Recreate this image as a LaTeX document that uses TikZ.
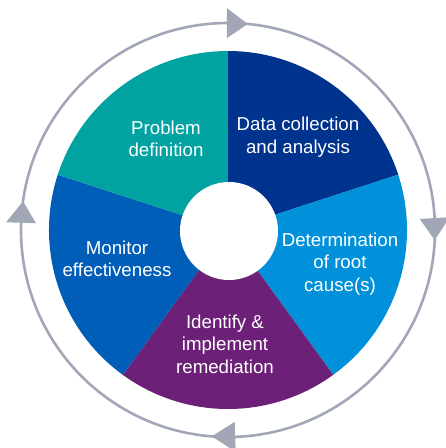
\documentclass[tikz,border=0pt]{standalone}
\usepackage{fontspec}
\setmainfont{Liberation Sans}
\definecolor{kTeal}{HTML}{00A3A1}
\definecolor{kNavy}{HTML}{00338D}
\definecolor{kSky}{HTML}{0091DA}
\definecolor{kPurple}{HTML}{6D2077}
\definecolor{kBlue}{HTML}{005EB8}
\definecolor{ringgray}{HTML}{A2A7B8}
\begin{document}
\begin{tikzpicture}[x=1pt,y=1pt,
  label/.style={text=white, align=center, inner sep=0pt,
    font=\fontsize{18.7}{22.5}\selectfont},
  ring/.style={draw=ringgray, line width=2.6pt}]
\useasboundingbox (-228,-218) rectangle (218,230);
% pie segments, clockwise from the top
\foreach \a/\b/\c in {18/90/kNavy, -54/18/kSky, -126/-54/kPurple,
                      162/234/kBlue, 90/162/kTeal}
  \fill[\c] (0,0) -- (\a:179) arc[start angle=\a, end angle=\b, radius=179] -- cycle;
% hub
\fill[white] (1,-1) circle (49);
% stage labels
\node[label] (problem) at (-62,91) {Problem\\definition};
\node[label] (data) at (70,93) {Data collection\\and analysis};
\node[label] (cause) at (112,-34) {Determination\\of root\\cause(s)};
\node[label] (fix) at (-3,-114) {Identify \&\\implement\\remediation};
\node[label] (monitor) at (-111,-29) {Monitor\\effectiveness};
% surrounding cycle ring with clockwise arrowheads
\draw[ring] (0,0) circle (207);
\foreach \b/\t in {90.3/84.5, 3.3/-2.8, -88/-94.5, 178/172}
  \fill[ringgray] (\b:192) -- (\b:222) -- (\t:207) -- cycle;
\end{tikzpicture}
\end{document}
